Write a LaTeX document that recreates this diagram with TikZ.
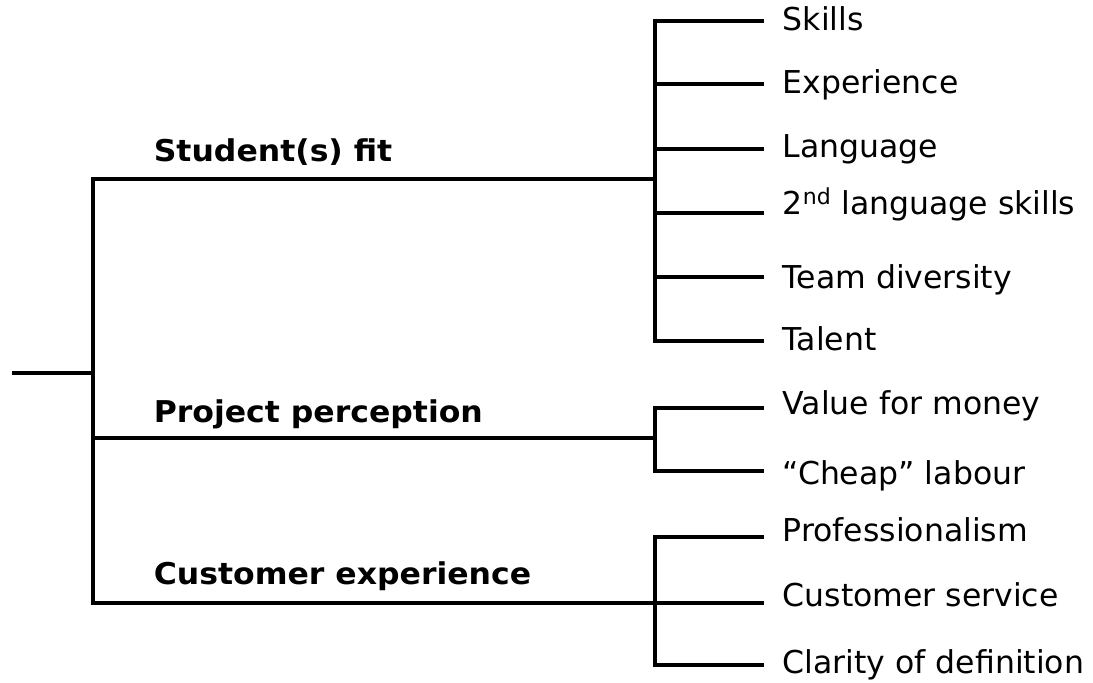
\documentclass[tikz,border=0pt]{standalone}
\usepackage{fontspec}
\setmainfont{DejaVu Sans}
\newfontfamily\branchfont[FakeStretch=1.05]{DejaVu Sans}
\begin{document}
\begin{tikzpicture}[x=1pt,y=-1pt,line width=3.6pt,line cap=rect,
  leaf/.style={anchor=base west,inner sep=0pt,font=\fontsize{31.5}{36}\selectfont},
  branch/.style={anchor=base west,inner sep=0pt,font=\branchfont\bfseries\fontsize{30}{34}\selectfont}]
\useasboundingbox (0,0) rectangle (1093,683);

% trunk
\coordinate (root) at (14,373);
\coordinate (trunk) at (93,373);
\coordinate (trunkTop) at (93,179);
\coordinate (trunkBot) at (93,603);
\draw (root) -- (trunk);
\draw (trunkTop) -- (trunkBot);

% branch junctions
\coordinate (sJ) at (655,179);
\coordinate (pJ) at (655,438);
\coordinate (cJ) at (655,603);
\coordinate (pStart) at (93,438);
\draw (trunkTop) -- (sJ);
\draw (pStart) -- (pJ);
\draw (trunkBot) -- (cJ);

\node[branch] (student) at (152,161) {Student(s) fit};
\node[branch] (project) at (152,422) {Project perception};
\node[branch] (customer) at (152,584) {Customer experience};

% leaves: line ends and text positions
\foreach \nm/\ly/\by/\txt in {
  skills/21/30/{Skills},
  exper/84/93/{Experience},
  lang/149/157/{Language},
  second/213/214/{2\textsuperscript{nd} language skills},
  team/277/288/{Team diversity},
  talent/341/350/{Talent},
  value/408/414/{Value for money},
  cheap/471/484/{“Cheap” labour},
  prof/537/541/{Professionalism},
  service/603/606/{Customer service},
  clarity/665/673/{Clarity of definition}}{
  \coordinate (\nm-a) at (655,\ly);
  \coordinate (\nm-b) at (762,\ly);
  \node[leaf] (\nm) at (781,\by) {\txt};
  \draw (\nm-a) -- (\nm-b);
}

% sub-branch verticals
\draw (skills-a) -- (talent-a);
\draw (value-a) -- (cheap-a);
\draw (prof-a) -- (clarity-a);
\end{tikzpicture}
\end{document}
